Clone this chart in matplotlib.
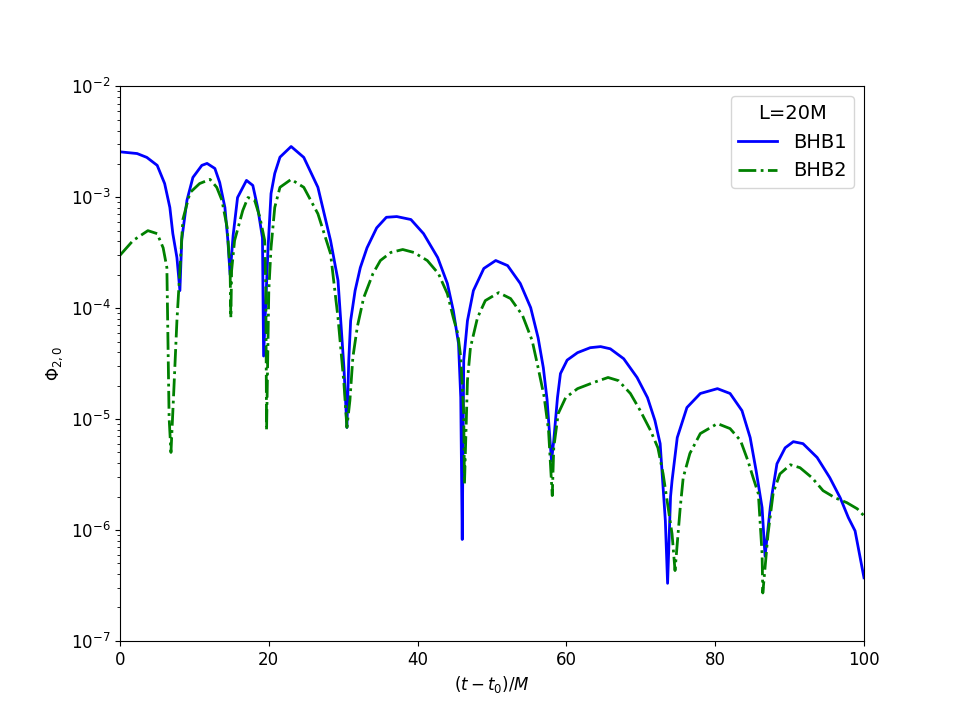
import numpy as np
import matplotlib
matplotlib.use('Agg')
import matplotlib.pyplot as plt

plt.rcParams['font.size'] = 12

# values
t_bhb1 = [0.0, 2.3, 3.6, 5.0, 6.0, 6.7, 7.1, 7.65, 8.05,
          8.3, 9.0, 9.8, 11.0, 11.7, 12.75, 13.4, 14.1, 14.5, 14.8,
          15.2, 15.8, 17.0, 17.85, 18.5, 19.15, 19.3,
          19.9, 20.3, 20.8, 21.5, 23.0, 24.7, 26.6, 28.3, 29.3, 30.1, 30.5,
          30.75, 31.0, 31.6, 32.3, 33.2, 34.5, 35.8, 37.2, 39.1, 40.8, 42.7, 44.0, 44.8, 45.5,
          45.8, 46.0,
          46.2, 46.7, 47.5, 48.9, 50.5, 52.1, 53.8, 55.2, 56.2, 56.9, 57.4, 58.0,
          58.3, 58.8, 59.2, 60.1, 61.5, 63.2, 64.6, 65.9, 67.7, 69.5, 70.9, 71.9, 72.6, 73.3, 73.6,
          74.0, 74.2, 74.9, 76.2, 78.0, 80.3, 82.0, 83.6, 84.7, 85.5, 86.3, 86.7,
          87.4, 87.65, 88.3, 89.4, 90.5, 91.8, 93.7, 95.4, 96.8, 97.9, 98.8, 100.0]
phi_bhb1 = [2.57e-3, 2.48e-3, 2.29e-3, 1.94e-3, 1.33e-3, 8.1e-4, 4.7e-4, 2.86e-4, 1.44e-4,
            4.17e-4, 9.4e-4, 1.51e-3, 1.94e-3, 2.02e-3, 1.82e-3, 1.36e-3, 8.1e-4, 4.07e-4, 2.0e-4,
            4.5e-4, 9.95e-4, 1.42e-3, 1.28e-3, 8.1e-4, 4.3e-4, 3.7e-5,
            3.5e-4, 1.08e-3, 1.64e-3, 2.3e-3, 2.87e-3, 2.29e-3, 1.23e-3, 4.07e-4, 1.78e-4, 2.9e-5, 8.4e-6,
            3.4e-5, 7.7e-5, 1.44e-4, 2.32e-4, 3.5e-4, 5.3e-4, 6.6e-4, 6.7e-4, 6.3e-4, 4.7e-4, 2.86e-4,
            1.67e-4, 9.5e-5, 4.8e-5, 1.56e-5, 8.2e-7,
            3.4e-5, 7.7e-5, 1.44e-4, 2.28e-4, 2.69e-4, 2.42e-4, 1.67e-4, 1.01e-4, 5.4e-5, 2.9e-5,
            1.5e-5, 4.2e-6,
            6.4e-6, 1.56e-5, 2.57e-5, 3.4e-5, 3.97e-5, 4.4e-5, 4.5e-5, 4.3e-5, 3.5e-5, 2.37e-5,
            1.56e-5, 9.7e-6, 6.0e-6, 1.21e-6, 3.3e-7,
            2.0e-6, 2.78e-6, 6.8e-6, 1.27e-5, 1.7e-5, 1.88e-5, 1.7e-5, 1.19e-5, 6.8e-6, 3.42e-6,
            1.59e-6, 5.8e-7,
            1.59e-6, 2.12e-6, 3.95e-6, 5.5e-6, 6.25e-6, 6.0e-6, 4.5e-6, 2.96e-6, 1.95e-6, 1.29e-6,
            9.8e-7, 3.7e-7]

t_bhb2 = [0.0, 1.75, 3.75, 5.0, 5.8, 6.3, 6.6, 6.85,
          7.25, 7.65, 8.05, 8.45, 9.4, 10.7, 12.1, 13.0, 13.7, 14.4, 14.8, 14.9,
          15.0, 15.4, 16.5, 17.2, 18.1, 18.8, 19.45, 19.6, 19.7,
          20.0, 20.3, 20.8, 21.5, 23.0, 24.7, 26.6, 28.3, 29.3, 30.1, 30.5,
          30.9, 31.3, 31.9, 32.75, 34.0, 35.0, 36.4, 38.0, 39.5, 41.3, 42.8, 44.0, 44.8, 45.4,
          45.8, 46.2, 46.3,
          46.7, 47.1, 48.05, 49.1, 50.9, 52.5, 54.1, 55.4, 56.2, 57.0, 57.6, 58.1,
          58.3, 58.9, 59.9, 61.5, 63.6, 65.6, 67.0, 68.6, 69.9, 71.3, 72.3, 73.0, 74.2, 74.6,
          75.3, 75.7, 76.6, 78.0, 80.3, 82.0, 83.4, 84.4, 85.1, 85.8, 86.3, 86.4,
          87.1, 87.8, 88.7, 90.1, 91.4, 93.0, 94.5, 96.1, 97.7, 99.1, 100.0]
phi_bhb2 = [3.0e-4, 4.07e-4, 5.0e-4, 4.7e-4, 3.5e-4, 2.32e-4, 1.03e-5, 5.0e-6,
            1.92e-5, 7.7e-5, 2.18e-4, 6.3e-4, 1.1e-3, 1.33e-3, 1.45e-3, 1.23e-3, 9.4e-4, 5.35e-4,
            2.18e-4, 8.2e-5,
            2.18e-4, 4.07e-4, 7.6e-4, 9.95e-4, 9.4e-4, 6.6e-4, 4.07e-4, 1.44e-4, 7.9e-6,
            1.44e-4, 3.5e-4, 8.1e-4, 1.23e-3, 1.45e-3, 1.23e-3, 7.1e-4, 3.1e-4, 8.2e-5, 2.09e-5, 8.4e-6,
            1.47e-5, 3.6e-5, 6.8e-5, 1.24e-4, 2.05e-4, 2.69e-4, 3.18e-4, 3.38e-4, 3.18e-4, 2.69e-4,
            2.05e-4, 1.35e-4, 8.2e-5, 5.9e-5, 3.6e-5, 1.12e-5, 2.6e-6,
            2.22e-5, 4.4e-5, 8.2e-5, 1.17e-4, 1.38e-4, 1.22e-4, 8.6e-5, 5.1e-5, 2.9e-5, 1.6e-5,
            7.9e-6, 2.04e-6,
            5.5e-6, 1.12e-5, 1.56e-5, 1.88e-5, 2.13e-5, 2.37e-5, 2.22e-5, 1.7e-5, 1.2e-5, 7.9e-6,
            5.5e-6, 3.2e-6, 9.2e-7, 4.3e-7,
            1.59e-6, 2.96e-6, 4.9e-6, 7.4e-6, 9.1e-6, 8.2e-6, 6.4e-6, 4.2e-6, 2.96e-6, 2.12e-6,
            6.1e-7, 2.7e-7,
            9.2e-7, 2.17e-6, 3.2e-6, 3.87e-6, 3.64e-6, 2.96e-6, 2.26e-6, 1.95e-6, 1.76e-6, 1.55e-6,
            1.34e-6]

fig, ax = plt.subplots(figsize=(9.6, 7.2), dpi=100)

ax.semilogy(t_bhb1, phi_bhb1, 'b-', lw=2, label='BHB1')
ax.semilogy(t_bhb2, phi_bhb2, 'g-.', lw=2, label='BHB2')

ax.set_xlim(0, 100)
ax.set_ylim(1e-7, 1e-2)
ax.set_xlabel(r'$(t-t_0)/M$')
ax.set_ylabel(r'$\Phi_{2,0}$')
ax.legend(title='L=20M', loc='upper right', fontsize=14, title_fontsize=14)

plt.savefig('out.png', dpi=100)
